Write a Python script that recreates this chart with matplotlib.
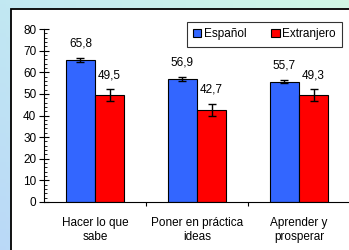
import numpy as np
import matplotlib.pyplot as plt
from matplotlib.patches import Rectangle
from matplotlib.ticker import MultipleLocator, FixedLocator

plt.rcParams['font.family'] = ['Liberation Sans', 'DejaVu Sans']

categorias = ['Hacer lo que\nsabe', 'Poner en práctica\nideas', 'Aprender y\nprosperar']
espanol = [65.8, 56.9, 55.7]
extranjero = [49.5, 42.7, 49.3]
err_espanol = [1.0, 1.0, 0.9]
err_extranjero = [2.6, 2.8, 2.8]

fig = plt.figure(figsize=(3.49, 2.5), dpi=100)

# fondo degradado
bg = fig.add_axes([0, 0, 1, 1], zorder=-10)
tl = np.array([0.76, 0.91, 0.95])
tr = np.array([0.82, 0.97, 0.90])
bl = np.array([0.73, 0.85, 0.97])
br = np.array([0.78, 0.91, 0.93])
u = np.linspace(0, 1, 60)[None, :, None]
v = np.linspace(0, 1, 60)[:, None, None]
img = (1 - v) * ((1 - u) * tl + u * tr) + v * ((1 - u) * bl + u * br)
bg.imshow(img, aspect='auto', extent=[0, 1, 0, 1], origin='upper')
bg.axis('off')
bg.add_patch(Rectangle((11 / 349, -0.1), 1.0, 1.1 - 9 / 250, transform=bg.transAxes,
                       facecolor='white', edgecolor='black', lw=1.3))
bg.set_xlim(0, 1)
bg.set_ylim(0, 1)

ax = fig.add_axes([44 / 349, 48 / 250, 306 / 349, 173 / 250])
ax.patch.set_alpha(0)
x = np.arange(len(categorias))
w = 0.285
b1 = ax.bar(x - w / 2, espanol, w, color='#3366ff', edgecolor='black', lw=0.8, label='Español')
b2 = ax.bar(x + w / 2, extranjero, w, color='#ff0000', edgecolor='black', lw=0.8, label='Extranjero')
ax.errorbar(x - w / 2, espanol, yerr=err_espanol, fmt='none', ecolor='black', capsize=3, lw=1)
ax.errorbar(x + w / 2, extranjero, yerr=err_extranjero, fmt='none', ecolor='black', capsize=3, lw=1)

for xs, vals, errs in [(x - w / 2, espanol, err_espanol), (x + w / 2, extranjero, err_extranjero)]:
    for xi, vi, ei in zip(xs, vals, errs):
        ax.annotate(f'{vi:.1f}'.replace('.', ','), (xi, vi + ei), xytext=(0, 6),
                    textcoords='offset points', ha='center', va='bottom', fontsize=8.5)

ax.set_xlim(-0.5, 2.5)
ax.set_ylim(0, 80)
for s in ['top', 'right']:
    ax.spines[s].set_visible(False)
ax.spines['left'].set_linewidth(0.8)
ax.spines['bottom'].set_linewidth(0.8)

ax.yaxis.set_major_locator(MultipleLocator(10))
ax.yaxis.set_minor_locator(MultipleLocator(2))
ax.tick_params(axis='y', which='major', direction='inout', length=7, width=0.8, labelsize=8.5, pad=2)
ax.tick_params(axis='y', which='minor', direction='in', length=2.5, width=0.6)

ax.xaxis.set_major_locator(FixedLocator([0.5, 1.5]))
ax.xaxis.set_minor_locator(FixedLocator(x))
ax.set_xticklabels([])
ax.set_xticklabels(categorias, minor=True)
ax.tick_params(axis='x', which='major', direction='out', length=3, width=0.8)
ax.tick_params(axis='x', which='minor', length=0, labelsize=8.5, pad=11)

leg = ax.legend(loc='upper right', bbox_to_anchor=(342 / 349 * 349 / 306 - 44 / 306, (250 - 22 - 48) / 173),
                ncol=2, fontsize=8.5, frameon=True, fancybox=False, edgecolor='black',
                handlelength=0.7, handleheight=0.7, handletextpad=0.2, columnspacing=2.1,
                borderpad=0.55, borderaxespad=0)
leg.get_frame().set_linewidth(0.8)

fig.savefig('out.png', dpi=100)
